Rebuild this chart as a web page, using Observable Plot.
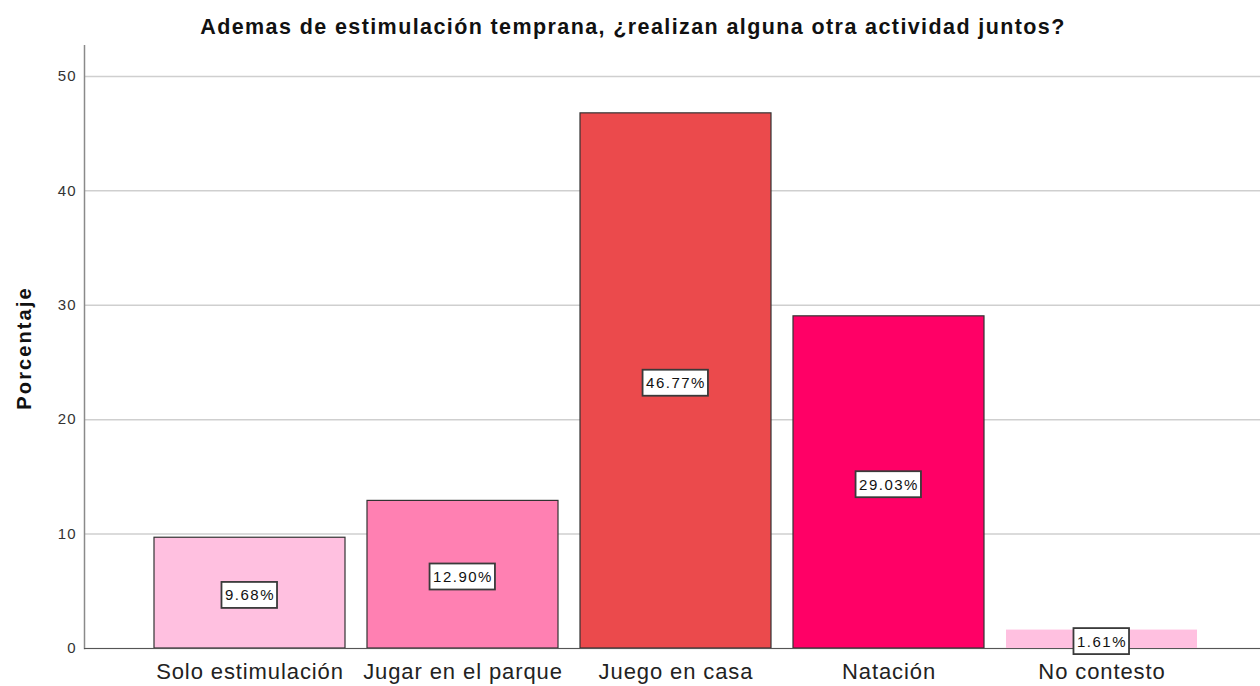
<!DOCTYPE html>
<html>
<head>
<meta charset="utf-8">
<script src="https://cdn.jsdelivr.net/npm/d3@7"></script>
<script src="https://cdn.jsdelivr.net/npm/@observablehq/plot@0.6"></script>
<style>
  html, body { margin: 0; padding: 0; background: #fff; overflow: hidden; width: 1260px; height: 686px; }
  #title { height: 45px; width: 1260px; text-align: center; font-family: "Liberation Sans", Arial, sans-serif; font-weight: bold; font-size: 21.5px; line-height: 21.5px; letter-spacing: 1.4px; color: #111; box-sizing: border-box; padding-top: 17px; padding-left: 6px; white-space: nowrap; }
</style>
</head>
<body>
<div id="title">Ademas de estimulación temprana, ¿realizan alguna otra actividad juntos?</div>
<div id="chart"></div>
<script>
const categories = ["Solo estimulación", "Jugar en el parque", "Juego en casa", "Natación", "No contesto"];
const values = [9.68, 12.90, 46.77, 29.03, 1.61];
const valueLabels = ["9.68%", "12.90%", "46.77%", "29.03%", "1.61%"];
const barColors = ["#FFC0E0", "#FF80B2", "#EB4A4C", "#FF0066", "#FFC0E0"];
const barStrokes = ["#333333", "#333333", "#333333", "#333333", "none"];
const yTicks = [0, 10, 20, 30, 40, 50];
const yLabel = "Porcentaje";

const data = categories.map((c, i) => ({
  category: c, value: values[i], label: valueLabels[i], fill: barColors[i], stroke: barStrokes[i]
}));

const chart = Plot.plot({
  width: 1260,
  height: 641,
  marginTop: 0,
  marginBottom: 38,
  marginLeft: 84,
  marginRight: 0,
  style: { fontFamily: "'Liberation Sans', Arial, sans-serif", color: "#222", background: "#fff" },
  x: { domain: categories, paddingInner: 0.1043, paddingOuter: 0.3095, align: 0.523, label: null },
  y: { domain: [0, 52.7], label: null },
  marks: [
    Plot.gridY(yTicks, { stroke: "#cfcfcf", strokeOpacity: 1, strokeWidth: 1.5 }),
    Plot.barY(data, { x: "category", y: "value", fill: d => d.fill, stroke: d => d.stroke, strokeWidth: 1.2 }),
    Plot.frame({ anchor: "left", stroke: "#8a8a8a", strokeWidth: 1.5 }),
    Plot.ruleY([0], { stroke: "#555", strokeWidth: 1.2 }),
    Plot.axisY({ ticks: yTicks, tickSize: 0, tickPadding: 8, fontSize: 15, label: null, color: "#333" }),
    Plot.axisX({ tickSize: 0, tickPadding: 15, fontSize: 22, label: null, color: "#222" }),
    Plot.text([yLabel], { frameAnchor: "left", textAnchor: "middle", rotate: -90, dx: -60, dy: 1, fontSize: 20, fontWeight: "bold", fill: "#111", ariaDescription: "y-title" }),
    Plot.text(data, { x: "category", y: d => d.value / 2, dy: 2.5, text: "label", fontSize: 15, fill: "#111", ariaDescription: "value-labels" })
  ]
});

document.getElementById("chart").appendChild(chart);

const setSpacing = (sel, px) => chart.querySelectorAll(sel).forEach(t => t.style.letterSpacing = px + "px");
setSpacing('g[aria-label="x-axis tick label"] text', 0.9);
setSpacing('g[aria-label="y-axis tick label"] text', 1);
setSpacing('g[aria-description="y-title"] text', 2.1);
setSpacing('g[aria-description="value-labels"] text', 1.5);

// draw white boxes behind value labels
const g = chart.querySelector('g[aria-description="value-labels"]');
if (g) {
  g.querySelectorAll("text").forEach(t => {
    const b = t.getBBox();
    const padL = 3.5, padR = 2, padY = 4.5;
    const r = document.createElementNS("http://www.w3.org/2000/svg", "rect");
    r.setAttribute("x", b.x - padL);
    r.setAttribute("y", b.y - padY);
    r.setAttribute("width", b.width + padL + padR);
    r.setAttribute("height", b.height + 2 * padY);
    r.setAttribute("fill", "#fff");
    r.setAttribute("stroke", "#3a3a3a");
    r.setAttribute("stroke-width", "1.8");
    const tr = t.getAttribute("transform");
    if (tr) r.setAttribute("transform", tr);
    t.parentNode.insertBefore(r, t);
  });
}
</script>
</body>
</html>
